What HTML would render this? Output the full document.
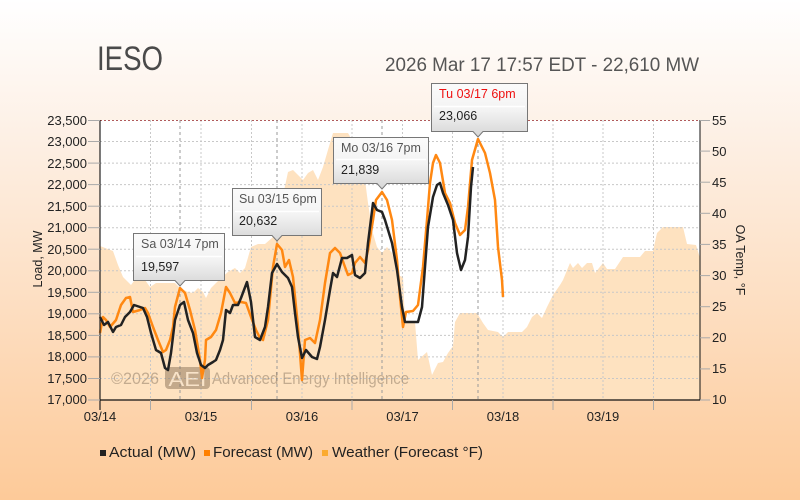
<!DOCTYPE html>
<html><head><meta charset="utf-8"><style>
html,body{margin:0;padding:0;width:800px;height:500px;overflow:hidden;}
svg{display:block;font-family:"Liberation Sans",sans-serif;}
</style></head><body>
<svg width="800" height="500" viewBox="0 0 800 500" xmlns="http://www.w3.org/2000/svg">
<defs>
<linearGradient id="bg" x1="0" y1="0" x2="0" y2="1">
<stop offset="0" stop-color="#ffffff"/><stop offset="0.25" stop-color="#fdf1e7"/><stop offset="1" stop-color="#fdca99"/>
</linearGradient>
<linearGradient id="tt" x1="0" y1="0" x2="0" y2="1">
<stop offset="0" stop-color="#fbfbfb"/><stop offset="0.5" stop-color="#f3f3f3"/><stop offset="1" stop-color="#d6d6d6"/>
</linearGradient>
</defs>
<rect x="0" y="0" width="800" height="500" fill="url(#bg)"/>
<rect x="100" y="120" width="600" height="280" fill="#ffffff"/>
<!-- temperature area -->
<polygon fill="#fee2c0" points="100,400 100,246 113,251 118,265 123,277 131,285 140,273 145,280 150,287 156,283 175,283 180,288 188,292 193,293 198,288 203,292 206,298 211,288 216,283 221,278 228,272 235,268 240,273 245,268 251,247 258,244 265,244 273,237 282,200 288,172 293,170 303,180 308,173 313,170 318,180 323,167 330,143 333,133 348,133 352,140 358,160 365,180 368,203 372,230 377,247 382,253 387,247 392,253 397,270 400,276 403,277 405,322 415,322 418,360 427,352 432,375 438,363 443,362 448,353 453,346 455,322 460,313 477,313 483,323 488,330 498,332 503,337 508,332 522,332 527,327 532,317 537,313 542,318 547,307 553,295 560,285 563,280 570,263 573,268 578,263 582,268 587,263 592,263 595,273 603,263 607,269 615,269 623,257 640,257 645,251 653,251 657,233 663,227 683,227 687,244 696,245 700,258 700,400"/>
<!-- grid -->
<g stroke="#c8c8c8" stroke-width="1" stroke-dasharray="2,2">
<line x1="100" y1="141.5" x2="700" y2="141.5"/><line x1="100" y1="163.1" x2="700" y2="163.1"/>
<line x1="100" y1="184.6" x2="700" y2="184.6"/><line x1="100" y1="206.2" x2="700" y2="206.2"/>
<line x1="100" y1="227.7" x2="700" y2="227.7"/><line x1="100" y1="249.2" x2="700" y2="249.2"/>
<line x1="100" y1="270.8" x2="700" y2="270.8"/><line x1="100" y1="292.3" x2="700" y2="292.3"/>
<line x1="100" y1="313.8" x2="700" y2="313.8"/><line x1="100" y1="335.4" x2="700" y2="335.4"/>
<line x1="100" y1="356.9" x2="700" y2="356.9"/><line x1="100" y1="378.5" x2="700" y2="378.5"/>
<line x1="150.5" y1="120" x2="150.5" y2="400"/><line x1="201" y1="120" x2="201" y2="400"/>
<line x1="251.5" y1="120" x2="251.5" y2="400"/><line x1="302" y1="120" x2="302" y2="400"/>
<line x1="352" y1="120" x2="352" y2="400"/><line x1="402.5" y1="120" x2="402.5" y2="400"/>
<line x1="452.5" y1="120" x2="452.5" y2="400"/><line x1="503" y1="120" x2="503" y2="400"/>
<line x1="553" y1="120" x2="553" y2="400"/><line x1="603" y1="120" x2="603" y2="400"/>
<line x1="653.5" y1="120" x2="653.5" y2="400"/>
</g>
<line x1="100" y1="120.5" x2="700" y2="120.5" stroke="#b05a5a" stroke-width="1" stroke-dasharray="2,2"/>
<!-- marker lines -->
<g stroke="#9a9a9a" stroke-width="1" stroke-dasharray="3,3">
<line x1="180" y1="120" x2="180" y2="400"/><line x1="277" y1="120" x2="277" y2="400"/>
<line x1="382" y1="120" x2="382" y2="400"/><line x1="478" y1="120" x2="478" y2="400"/>
</g>
<!-- watermark -->
<g opacity="0.5">
<text x="111" y="384" font-size="17" fill="#8a7660" textLength="48" lengthAdjust="spacingAndGlyphs">©2026</text>
<rect x="165" y="367" width="45" height="22" rx="4" fill="#8a7258"/>
<text x="187.5" y="386" font-size="20" fill="#f3e4d2" text-anchor="middle" textLength="38" lengthAdjust="spacingAndGlyphs">AEI</text>
<text x="212" y="384" font-size="17" fill="#8a7660" textLength="197" lengthAdjust="spacingAndGlyphs">Advanced Energy Intelligence</text>
</g>
<!-- series -->
<polyline fill="none" stroke="#ff8812" stroke-width="2.5" stroke-linejoin="round" points="100,333 103,317 106,320 110,327 116,320 121,305 126,298 130,297 133,312 140,310 145,308 148,313 153,327 158,340 163,352 166,350 170,340 173,327 175,307 180,288 185,293 190,310 195,330 200,360 202,378 205,360 206,340 211,337 216,330 221,313 226,287 230,293 235,303 241,302 246,303 251,317 256,330 260,338 263,340 268,320 273,267 277,244 282,250 285,267 289,260 293,277 298,327 302,380 305,340 310,338 315,343 320,320 325,283 330,253 335,248 340,253 345,267 348,275 352,273 355,263 360,257 365,263 368,250 373,220 376,200 382,192 387,200 392,220 397,260 400,297 403,327 406,312 413,311 418,305 423,267 427,220 430,183 433,163 436,155 440,163 445,193 450,203 455,223 460,235 465,230 468,207 472,160 478,139 485,153 490,173 495,200 498,247 502,280 503,297"/>
<polyline fill="none" stroke="#222" stroke-width="2.5" stroke-linejoin="round" points="100,317 104,325 108,322 113,332 116,327 121,325 125,317 130,312 134,305 140,307 143,308 147,317 151,333 156,350 161,353 165,368 168,370 171,353 175,320 180,305 184,302 188,320 193,333 197,353 201,365 205,368 208,365 213,362 216,360 220,350 223,340 226,310 230,313 233,305 238,305 241,298 247,282 251,302 255,337 260,340 265,327 268,307 272,273 277,264 282,272 288,278 292,287 295,313 298,337 302,358 306,350 312,357 317,359 320,347 325,320 330,290 333,273 337,277 342,258 347,258 352,255 355,275 360,278 365,273 368,243 373,203 377,210 382,212 385,220 392,243 397,270 402,307 405,322 412,322 418,322 422,307 425,267 428,227 433,197 437,185 440,183 443,193 448,205 453,220 457,253 461,270 465,260 468,237 471,187 473,167"/>
<!-- axes -->
<line x1="100" y1="120" x2="100" y2="410" stroke="#222" stroke-width="1.2"/>
<line x1="700" y1="120" x2="700" y2="400" stroke="#111" stroke-width="1"/>
<line x1="100" y1="400" x2="700" y2="400" stroke="#111" stroke-width="1.2"/>
<g stroke="#aaa" stroke-width="1">
<line x1="88" y1="120.5" x2="100" y2="120.5"/><line x1="88" y1="141.5" x2="100" y2="141.5"/><line x1="88" y1="163.1" x2="100" y2="163.1"/><line x1="88" y1="184.6" x2="100" y2="184.6"/><line x1="88" y1="206.2" x2="100" y2="206.2"/><line x1="88" y1="227.7" x2="100" y2="227.7"/><line x1="88" y1="249.2" x2="100" y2="249.2"/><line x1="88" y1="270.8" x2="100" y2="270.8"/><line x1="88" y1="292.3" x2="100" y2="292.3"/><line x1="88" y1="313.8" x2="100" y2="313.8"/><line x1="88" y1="335.4" x2="100" y2="335.4"/><line x1="88" y1="356.9" x2="100" y2="356.9"/><line x1="88" y1="378.5" x2="100" y2="378.5"/><line x1="88" y1="400" x2="100" y2="400"/>
<line x1="700" y1="120.5" x2="710" y2="120.5"/><line x1="700" y1="151.1" x2="710" y2="151.1"/><line x1="700" y1="182.2" x2="710" y2="182.2"/><line x1="700" y1="213.3" x2="710" y2="213.3"/><line x1="700" y1="244.4" x2="710" y2="244.4"/><line x1="700" y1="275.6" x2="710" y2="275.6"/><line x1="700" y1="306.7" x2="710" y2="306.7"/><line x1="700" y1="337.8" x2="710" y2="337.8"/><line x1="700" y1="368.9" x2="710" y2="368.9"/><line x1="700" y1="400" x2="710" y2="400"/>
<line x1="150.5" y1="400" x2="150.5" y2="410"/><line x1="251.5" y1="400" x2="251.5" y2="410"/><line x1="352" y1="400" x2="352" y2="410"/><line x1="452.5" y1="400" x2="452.5" y2="410"/><line x1="553" y1="400" x2="553" y2="410"/><line x1="653.5" y1="400" x2="653.5" y2="410"/>
</g>
<!-- left labels -->
<g font-size="13" fill="#222" text-anchor="end">
<text x="87" y="125">23,500</text><text x="87" y="146">23,000</text><text x="87" y="168">22,500</text><text x="87" y="189">22,000</text><text x="87" y="211">21,500</text><text x="87" y="232">21,000</text><text x="87" y="254">20,500</text><text x="87" y="275">20,000</text><text x="87" y="297">19,500</text><text x="87" y="318">19,000</text><text x="87" y="340">18,500</text><text x="87" y="361">18,000</text><text x="87" y="383">17,500</text><text x="87" y="404">17,000</text>
</g>
<g font-size="13" fill="#222">
<text x="712" y="125">55</text><text x="712" y="156">50</text><text x="712" y="187">45</text><text x="712" y="218">40</text><text x="712" y="249">35</text><text x="712" y="280">30</text><text x="712" y="311">25</text><text x="712" y="342">20</text><text x="712" y="373">15</text><text x="712" y="404">10</text>
</g>
<g font-size="13" fill="#222" text-anchor="middle">
<text x="100" y="421">03/14</text><text x="201" y="421">03/15</text><text x="302" y="421">03/16</text><text x="402.5" y="421">03/17</text><text x="503" y="421">03/18</text><text x="603" y="421">03/19</text>
</g>
<text transform="translate(42,259) rotate(-90)" font-size="12.5" fill="#222" text-anchor="middle">Load, MW</text>
<text transform="translate(736,260) rotate(90)" font-size="12.5" fill="#222" text-anchor="middle">OA Temp, °F</text>
<!-- title -->
<text x="97" y="70" font-size="34" fill="#4a4a4a" textLength="66" lengthAdjust="spacingAndGlyphs">IESO</text>
<text x="385" y="71" font-size="19" fill="#555" textLength="314" lengthAdjust="spacingAndGlyphs">2026 Mar 17 17:57 EDT - 22,610 MW</text>
<!-- tooltips -->
<g font-size="12.5">
<path d="M133.5,233.5 H224.5 V280.5 H185 L180,286 L175,280.5 H133.5 Z" fill="url(#tt)" stroke="#777" stroke-width="1"/>
<line x1="136" y1="256.5" x2="222" y2="256.5" stroke="#ffffff" stroke-width="1.5"/>
<text x="141" y="248" fill="#555">Sa 03/14 7pm</text><text x="141" y="271" fill="#222">19,597</text>
<path d="M232.5,188.5 H321.5 V235.5 H282 L277,241 L272,235.5 H232.5 Z" fill="url(#tt)" stroke="#777" stroke-width="1"/>
<line x1="235" y1="211.5" x2="319" y2="211.5" stroke="#ffffff" stroke-width="1.5"/>
<text x="239" y="203" fill="#555">Su 03/15 6pm</text><text x="239" y="225" fill="#222">20,632</text>
<path d="M333.5,137.5 H428.5 V183.5 H387 L382,189 L377,183.5 H333.5 Z" fill="url(#tt)" stroke="#777" stroke-width="1"/>
<line x1="336" y1="159.5" x2="426" y2="159.5" stroke="#ffffff" stroke-width="1.5"/>
<text x="341" y="152" fill="#555">Mo 03/16 7pm</text><text x="341" y="174" fill="#222">21,839</text>
<path d="M431.5,83.5 H527.5 V131.5 H483 L478,137 L473,131.5 H431.5 Z" fill="url(#tt)" stroke="#777" stroke-width="1"/>
<line x1="434" y1="106.5" x2="525" y2="106.5" stroke="#ffffff" stroke-width="1.5"/>
<text x="439" y="98" fill="#ee1111">Tu 03/17 6pm</text><text x="439" y="120" fill="#222">23,066</text>
</g>
<!-- legend -->
<rect x="100" y="450" width="6" height="6" fill="#222"/>
<text x="109" y="457" font-size="15" fill="#222" textLength="87" lengthAdjust="spacingAndGlyphs">Actual (MW)</text>
<rect x="204" y="450" width="6" height="6" fill="#ff8000"/>
<text x="213" y="457" font-size="15" fill="#222" textLength="100" lengthAdjust="spacingAndGlyphs">Forecast (MW)</text>
<rect x="322" y="450" width="6" height="6" fill="#fbab30"/>
<text x="332" y="457" font-size="15" fill="#222" textLength="151" lengthAdjust="spacingAndGlyphs">Weather (Forecast °F)</text>
</svg>
</body></html>
